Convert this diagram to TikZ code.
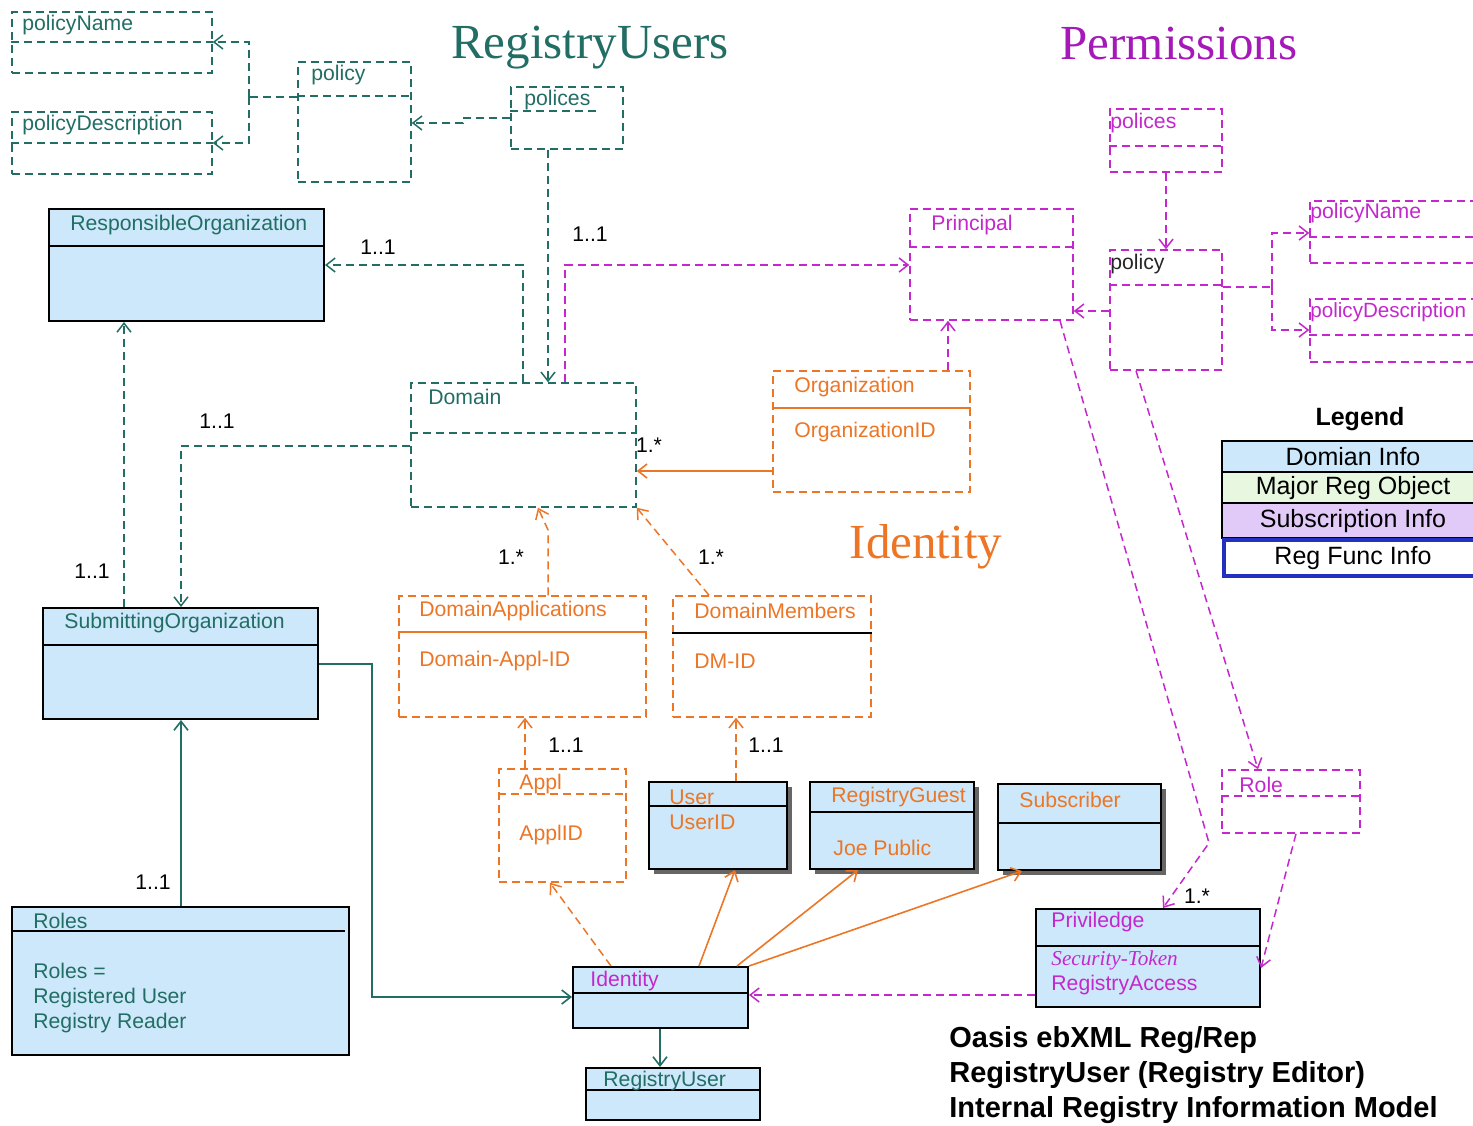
\documentclass[tikz,border=0pt]{standalone}
\usepackage{fontspec}
\setmainfont{Liberation Sans}
\newfontfamily\ttlserif{Liberation Serif}
\usetikzlibrary{arrows.meta,fit}

\definecolor{tealc}{RGB}{34,110,100}
\definecolor{magc}{RGB}{196,40,205}
\definecolor{permc}{RGB}{165,25,185}
\definecolor{orangec}{RGB}{236,118,38}
\definecolor{boxblue}{RGB}{204,232,250}
\definecolor{leggreen}{RGB}{232,248,224}
\definecolor{leglav}{RGB}{226,202,248}
\definecolor{legblueb}{RGB}{36,48,190}

\tikzset{
  x=0.5pt, y=-0.5pt,
  dsh/.style={dash pattern=on 4pt off 2.5pt},
  tip/.style={-{Straight Barb[length=4.5pt,width=7pt]}},
  lbl/.style={font=\fontsize{10.6}{13}\selectfont, anchor=west, inner sep=0pt},
  mult/.style={font=\fontsize{10.6}{13}\selectfont, inner sep=0pt, text=black},
  ubox/.style={draw=black, line width=1pt, fill=boxblue, inner sep=0pt},
  shbox/.style={fill=black!60, draw=none, inner sep=0pt},
  tbox/.style={draw=tealc, dsh, line width=0.75pt, inner sep=0pt},
  mbox/.style={draw=magc, dsh, line width=0.75pt, inner sep=0pt},
  obox/.style={draw=orangec, dsh, line width=0.75pt, inner sep=0pt},
  udiv/.style={draw=black, line width=1pt},
  tdiv/.style={draw=tealc, dsh, line width=0.75pt},
  mdiv/.style={draw=magc, dsh, line width=0.75pt},
  odiv/.style={draw=orangec, dsh, line width=0.75pt},
  tdash/.style={draw=tealc, dsh, line width=0.75pt, tip},
  tsolid/.style={draw=tealc, line width=0.8pt, tip},
  tline/.style={draw=tealc, dsh, line width=0.75pt},
  mdash/.style={draw=magc, dsh, line width=0.75pt, tip},
  mline/.style={draw=magc, dsh, line width=0.75pt},
  odash/.style={draw=orangec, dsh, line width=0.75pt, tip},
  osolid/.style={draw=orangec, line width=0.8pt, tip},
  ttl/.style={font=\ttlserif\fontsize{24.5}{28}\selectfont, inner sep=0pt},
  legrow/.style={draw=black, line width=1pt, inner sep=0pt},
  legtxt/.style={font=\fontsize{12.5}{14}\selectfont, inner sep=0pt},
}

\begin{document}
\begin{tikzpicture}
\useasboundingbox (0,0) rectangle (1473,1125);
\fill[white] (0,0) rectangle (1473,1125);

% ---------- section titles ----------
\node[ttl, text=tealc] (ttlRU) at (590,48) {RegistryUsers};
\node[ttl, text=permc] (ttlPerm) at (1179,44) {Permissions};
\node[ttl, text=orangec] (ttlId) at (926,547) {Identity};

% ---------- registry users: policy classes ----------
\node[tbox, fit={(12,12) (212,73)}] (pnL) {};
\draw[tdiv] (pnL.west |- 0,42) -- (pnL.east |- 0,42);
\node[lbl, text=tealc] (pnLt) at (22,25) {policyName};

\node[tbox, fit={(12,112) (212,174)}] (pdL) {};
\draw[tdiv] (pdL.west |- 0,143) -- (pdL.east |- 0,143);
\node[lbl, text=tealc] (pdLt) at (22,125) {policyDescription};

\node[tbox, fit={(298,62) (411,182)}] (polL) {};
\draw[tdiv] (polL.west |- 0,96) -- (polL.east |- 0,96);
\node[lbl, text=tealc] (polLt) at (311,75) {policy};

\node[tbox, fit={(511,87) (623,149)}] (polsL) {};
\draw[tdiv] (polsL.west |- 0,111) -- (598,111);
\node[lbl, text=tealc] (polsLt) at (524,100) {polices};

% ---------- registry users: organisations ----------
\node[ubox, fit={(49,209) (324,321)}] (ro) {};
\draw[udiv] (ro.west |- 0,246) -- (ro.east |- 0,246);
\node[lbl, text=tealc] (rot) at (70,225) {ResponsibleOrganization};

\node[tbox, fit={(411,383) (636,507)}] (dom) {};
\draw[tdiv] (dom.west |- 0,433) -- (dom.east |- 0,433);
\node[lbl, text=tealc] (domt) at (428,397) {Domain};

\node[ubox, fit={(43,608) (318,719)}] (so) {};
\draw[udiv] (so.west |- 0,645) -- (so.east |- 0,645);
\node[lbl, text=tealc] (sot) at (64,623) {SubmittingOrganization};

\node[ubox, fit={(12,907) (349,1055)}] (roles) {};
\draw[black, line width=0.6pt] (roles.west |- 0,931) -- (345,931);
\node[lbl, text=tealc] (rolest) at (33,921) {Roles};
\node[lbl, text=tealc, anchor=north west, align=left, font=\fontsize{10.6}{12.5}\selectfont] (rolesb) at (33,963) {Roles =\\Registered User\\Registry Reader};

% ---------- identity classes ----------
\node[obox, fit={(773,371) (970,492)}] (org) {};
\draw[orangec, line width=0.8pt] (org.west |- 0,408) -- (org.east |- 0,408);
\node[lbl, text=orangec] (orgt) at (794,387) {Organization};
\node[lbl, text=orangec] (orgid) at (794,432) {OrganizationID};

\node[obox, fit={(399,596) (646,717)}] (da) {};
\draw[orangec, line width=0.8pt] (da.west |- 0,632) -- (da.east |- 0,632);
\node[lbl, text=orangec] (dat) at (419,611) {DomainApplications};
\node[lbl, text=orangec] (daid) at (419,661) {Domain-Appl-ID};

\node[obox, fit={(673,596) (871,717)}] (dm) {};
\draw[black, line width=0.8pt] (dm.west |- 0,633) -- (dm.east |- 0,633);
\node[lbl, text=orangec] (dmt) at (694,611) {DomainMembers};
\node[lbl, text=orangec] (dmid) at (694,661) {DM-ID};

\node[obox, fit={(499,769) (626,882)}] (appl) {};
\draw[odiv] (appl.west |- 0,794) -- (appl.east |- 0,794);
\node[lbl, text=orangec] (applt) at (519,784) {Appl};
\node[lbl, text=orangec] (applid) at (519,835) {ApplID};

\node[shbox, fit={(654,787) (792,874)}] (userSh) {};
\node[ubox, fit={(649,782) (787,869)}] (user) {};
\draw[udiv] (user.west |- 0,806) -- (user.east |- 0,806);
\node[lbl, text=orangec] (usert) at (669,797) {User};
\node[lbl, text=orangec] (userid) at (669,822) {UserID};

\node[shbox, fit={(815,787) (979,874)}] (rgSh) {};
\node[ubox, fit={(810,782) (974,869)}] (rg) {};
\draw[udiv] (rg.west |- 0,812) -- (rg.east |- 0,812);
\node[lbl, text=orangec] (rgt) at (831,797) {RegistryGuest};
\node[lbl, text=orangec] (rgb) at (833,848) {Joe Public};

\node[shbox, fit={(1003,789) (1166,875)}] (subSh) {};
\node[ubox, fit={(998,784) (1161,870)}] (sub) {};
\draw[udiv] (sub.west |- 0,823) -- (sub.east |- 0,823);
\node[lbl, text=orangec] (subt) at (1019,800) {Subscriber};

\node[ubox, fit={(573,967) (748,1028)}] (ident) {};
\draw[udiv] (ident.west |- 0,993) -- (ident.east |- 0,993);
\node[lbl, text=magc] (identt) at (590,981) {Identity};

\node[ubox, fit={(586,1068) (760,1120)}] (ru) {};
\draw[udiv] (ru.west |- 0,1090) -- (ru.east |- 0,1090);
\node[lbl, text=tealc] (rut) at (603,1081) {RegistryUser};

% ---------- permissions classes ----------
\node[mbox, fit={(910,209) (1073,320)}] (prin) {};
\draw[mdiv] (prin.west |- 0,247) -- (prin.east |- 0,247);
\node[lbl, text=magc] (print) at (931,225) {Principal};

\node[mbox, fit={(1110,109) (1222,172)}] (polsP) {};
\draw[mdiv] (polsP.west |- 0,146) -- (polsP.east |- 0,146);
\node[lbl, text=magc] (polsPt) at (1110,123) {polices};

\node[mbox, fit={(1110,250) (1222,370)}] (polP) {};
\draw[mdiv] (polP.west |- 0,285) -- (polP.east |- 0,285);
\node[lbl, text=black!85] (polPt) at (1110,264) {policy};

\node[mbox, fit={(1310,201) (1480,263)}] (pnP) {};
\draw[mdiv] (pnP.west |- 0,237) -- (pnP.east |- 0,237);
\node[lbl, text=magc] (pnPt) at (1310,213) {policyName};

\node[mbox, fit={(1310,299) (1480,362)}] (pdP) {};
\draw[mdiv] (pdP.west |- 0,335) -- (pdP.east |- 0,335);
\node[lbl, text=magc, font=\fontsize{10.3}{13}\selectfont] (pdPt) at (1310,312) {policyDescription};

\node[mbox, fit={(1222,770) (1360,833)}] (role) {};
\draw[mdiv] (role.west |- 0,796) -- (role.east |- 0,796);
\node[lbl, text=magc] (rolet) at (1239,785) {Role};

\node[ubox, fit={(1036,909) (1260,1007)}] (priv) {};
\draw[udiv] (priv.west |- 0,946) -- (priv.east |- 0,946);
\node[lbl, text=magc] (privt) at (1051,922) {Priviledge};
\node[lbl, text=magc, font=\ttlserif\itshape\fontsize{10.6}{13}\selectfont] (privtok) at (1051,960) {Security-Token};
\node[lbl, text=magc] (privacc) at (1051,985) {RegistryAccess};

% ---------- legend ----------
\node[font=\bfseries\fontsize{12.5}{14}\selectfont, inner sep=0pt] (legT) at (1360,419) {Legend};
\node[legrow, fill=boxblue, fit={(1222,441) (1480,472)}] (leg1) {};
\node[legrow, fill=leggreen, fit={(1222,472) (1480,503)}] (leg2) {};
\node[legrow, fill=leglav, fit={(1222,503) (1480,538)}] (leg3) {};
\node[legrow, fill=white, draw=legblueb, line width=2.2pt, fit={(1224,540) (1480,576)}] (leg4) {};
\node[legtxt] (leg1t) at (1353,457) {Domian Info};
\node[legtxt] (leg2t) at (1353,488) {Major Reg Object};
\node[legtxt] (leg3t) at (1353,521) {Subscription Info};
\node[legtxt] (leg4t) at (1353,558) {Reg Func Info};

% ---------- caption ----------
\node[anchor=north west, align=left, inner sep=0pt, font=\bfseries\fontsize{14.5}{17.5}\selectfont] (cap) at (949,1026)
  {Oasis ebXML Reg/Rep\\RegistryUser (Registry Editor)\\Internal Registry Information Model};

% ---------- teal connectors ----------
\coordinate (jL) at (249,97);
\draw[tline] (polL.west |- jL) -- (jL);
\draw[tdash] (jL) |- (pnL.east |- 0,42);
\draw[tdash] (jL) |- (pdL.east |- 0,143);
\draw[tdash] (polsL.west |- 0,118) -- (463,118) -- (463,123) -- (polL.east |- 0,123);
\draw[tdash] (polsL.south -| 548,0) -- (dom.north -| 548,0);
\draw[tdash] (dom.north -| 523,0) |- (ro.east |- 0,265);
\draw[tdash] (dom.west |- 0,446) -| (so.north -| 181,0);
\draw[tdash] (so.north -| 124,0) -- (ro.south -| 124,0);
\draw[tsolid] (roles.north -| 181,0) -- (so.south -| 181,0);
\draw[tsolid] (so.east |- 0,664) -| (372,997) -- (ident.west |- 0,997);
\draw[tsolid] (ident.south -| 660,0) -- (ru.north -| 660,0);

\node[mult] (m1) at (378,247) {1..1};
\node[mult] (m2) at (217,421) {1..1};
\node[mult] (m3) at (92,571) {1..1};
\node[mult] (m4) at (153,882) {1..1};

% ---------- orange connectors ----------
\draw[osolid] (org.west |- 0,471) -- (dom.east |- 0,471);
\draw[odash] (da.north -| 548,0) -- (548,530) -- (dom.south -| 538,0);
\draw[odash] (dm.north -| 709,0) -- (dom.south east);
\draw[odash] (appl.north -| 525,0) -- (da.south -| 525,0);
\draw[odash] (user.north -| 736,0) -- (dm.south -| 736,0);
\draw[odash] (ident.north -| 611,0) -- (appl.south -| 550,0);
\draw[osolid] (ident.north -| 699,0) -- (user.south -| 735,0);
\draw[osolid] (ident.north -| 737,0) -- (rg.south -| 858,0);
\draw[osolid] (ident.north east) -- (sub.south -| 1022,0);

\node[mult] (m5) at (649,445) {1.*};
\node[mult] (m6) at (511,557) {1.*};
\node[mult] (m7) at (711,557) {1.*};
\node[mult] (m8) at (566,745) {1..1};
\node[mult] (m9) at (766,745) {1..1};

% ---------- magenta connectors ----------
\draw[mdash] (dom.north -| 565,0) |- (prin.west |- 0,265);
\draw[mdash] (polsP.south -| 1166,0) -- (polP.north -| 1166,0);
\coordinate (jP) at (1272,287);
\draw[mline] (polP.east |- jP) -- (jP);
\draw[mdash] (jP) |- (pnP.west |- 0,233);
\draw[mdash] (jP) |- (pdP.west |- 0,330);
\draw[mdash] (polP.west |- 0,311) -- (prin.east |- 0,311);
\draw[mdash] (org.north -| 948,0) -- (prin.south -| 948,0);
\draw[mdash] (prin.south -| 1060,0) -- (1209,843) -- (priv.north -| 1163,0);
\draw[mdash] (polP.south -| 1136,0) -- (role.north -| 1258,0);
\draw[mdash] (role.south -| 1296,0) -- (priv.east |- 0,968);
\draw[mdash] (priv.west |- 0,995) -- (ident.east |- 0,995);

\node[mult] (m10) at (590,234) {1..1};
\node[mult] (m11) at (1197,896) {1.*};
\end{tikzpicture}
\end{document}
